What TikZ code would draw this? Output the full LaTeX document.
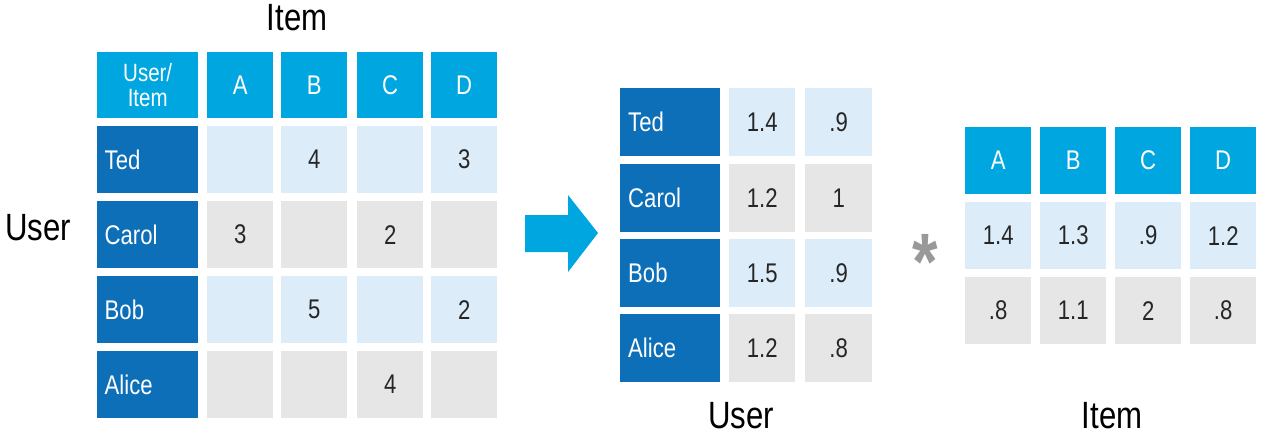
\documentclass[tikz,border=0pt]{standalone}
\usepackage{fontspec}
\setmainfont[FakeStretch=0.82]{Liberation Sans}
\begin{document}
\begin{tikzpicture}[x=1pt,y=-1pt,
 cell/.style={minimum width=#1,minimum height=67pt,inner sep=0pt,anchor=north west,font=\fontsize{27}{28}\selectfont,text=black!85},
 hd/.style={cell=#1,fill=cyanH,text=white},
 nm/.style={cell=#1,fill=blueD,text=white},
 lb/.style={cell=#1,fill=lblue},
 gr/.style={cell=#1,fill=lgrey},
 big/.style={font=\fontsize{38}{40}\selectfont}]
\definecolor{cyanH}{HTML}{00A6E0}
\definecolor{blueD}{HTML}{0C6FB8}
\definecolor{lblue}{HTML}{DCECF9}
\definecolor{lgrey}{HTML}{E6E6E6}
\useasboundingbox (0,0) rectangle (1266,436);
% left matrix
\node[hd=101pt,minimum height=66pt,align=center,font=\fontsize{25}{25}\selectfont] (h0) at (97,52) {User/\\Item};
\foreach \c/\x in {A/207,B/281,C/357,D/431}
  \node[hd=66pt,minimum height=66pt] (h\c) at (\x,52) {\c};
\foreach \n/\y/\s/\a/\b/\cc/\d [count=\i] in {Ted/126/lb//4//3,Carol/201/gr/3//2/,Bob/276/lb//5//2,Alice/351/gr///4/}{
  \node[nm=101pt,text width=86pt,align=left] (r\i) at (97,\y) {\n};
  \node[\s=66pt] (r\i a) at (207,\y) {\a};
  \node[\s=66pt] (r\i b) at (281,\y) {\b};
  \node[\s=66pt] (r\i c) at (357,\y) {\cc};
  \node[\s=66pt] (r\i d) at (431,\y) {\d};
}
\node[big] (itemL) at (297,18) {Item};
\node[big] (userL) at (38,228) {User};
% arrow
\fill[cyanH] (525,215) -- (568,215) -- (568,195) -- (598,233) -- (568,272) -- (568,252) -- (525,252) -- cycle;
\coordinate (arr) at (560,233);
% middle
\foreach \n/\y/\s/\a/\b [count=\i] in {Ted/88/lb/1.4/.9,Carol/164/gr/1.2/1,Bob/239/lb/1.5/.9,Alice/314/gr/1.2/.8}{
  \node[nm=100pt,minimum height=68pt,text width=84pt,align=left] (m\i) at (620,\y) {\n};
  \node[\s=66pt,minimum height=68pt] (m\i a) at (729,\y) {\a};
  \node[\s=67pt,minimum height=68pt] (m\i b) at (805,\y) {\b};
}
\node[big] (userM) at (741,416) {User};
% star
\node[font=\fontsize{80}{80}\selectfont\bfseries,text=gray!80] (star) at (925,262) {*};
% right
\foreach \c/\x/\p/\q in {A/965/1.4/.8,B/1040/1.3/1.1,C/1115/.9/2,D/1190/1.2/.8}{
  \node[hd=66pt] (t\c) at (\x,127) {\c};
  \node[lb=66pt] (u\c) at (\x,202) {\p};
  \node[gr=66pt] (v\c) at (\x,277) {\q};
}
\node[big] (itemR) at (1112,416) {Item};
\end{tikzpicture}
\end{document}
